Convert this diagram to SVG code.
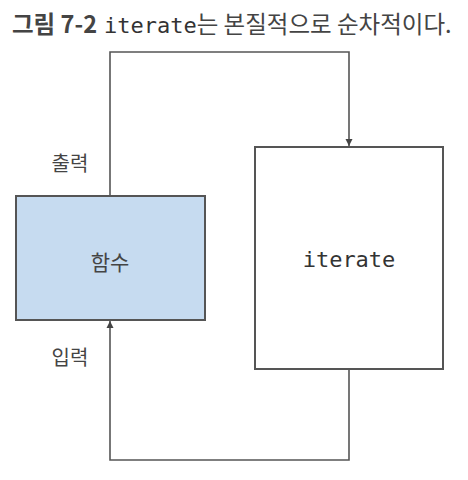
<svg xmlns="http://www.w3.org/2000/svg" width="468" height="480" viewBox="0 0 468 480">
<style>
.box{stroke:#555;stroke-width:2}
.conn{fill:none;stroke:#555;stroke-width:1.6}
.ko{font-family:"Noto Sans CJK KR","Noto Sans",sans-serif;fill:#444}
.mono{font-family:"DejaVu Sans Mono","Liberation Mono",monospace;fill:#333}
</style>
<defs>
<marker id="arr" viewBox="0 0 10 10" refX="10" refY="5" markerWidth="7" markerHeight="9" markerUnits="userSpaceOnUse" orient="auto">
<path d="M0,0 L10,5 L0,10 z" fill="#444"/>
</marker>
</defs>
<rect width="468" height="480" fill="#fff"/>
<text x="12" y="33" font-size="23.5"><tspan class="ko" font-weight="bold" fill="#555">그림 7-2</tspan><tspan class="mono" font-size="22" dx="7">iterate</tspan><tspan class="ko" fill="#333">는 본질적으로 순차적이다.</tspan></text>
<g id="connectors">
<path class="conn" d="M110,196 V52 H349 V146" marker-end="url(#arr)"/>
<path class="conn" d="M349,370 V460 H110 V321" marker-end="url(#arr)"/>
</g>
<g id="func">
<rect class="box" x="16" y="196" width="189" height="124" fill="#c6dbf0"/>
<text class="ko" x="110" y="270" font-size="21" text-anchor="middle">함수</text>
</g>
<g id="iterate">
<rect class="box" x="255" y="147" width="188" height="222" fill="#fff"/>
<text class="mono" x="349" y="267" font-size="22" text-anchor="middle">iterate</text>
</g>
<g id="label-out">
<text class="ko" x="70" y="171" font-size="20" text-anchor="middle">출력</text>
</g>
<g id="label-in">
<text class="ko" x="70" y="365" font-size="20" text-anchor="middle">입력</text>
</g>
</svg>
